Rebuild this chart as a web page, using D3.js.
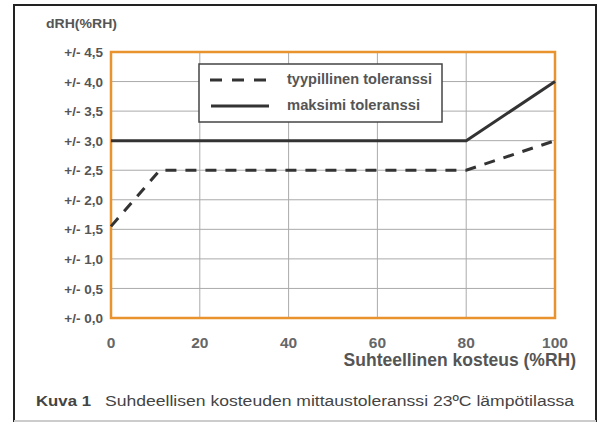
<!DOCTYPE html>
<html>
<head>
<meta charset="utf-8">
<script src="https://cdn.jsdelivr.net/npm/d3@7"></script>
<style>
  body { margin: 0; background: #fff; }
  svg text { font-family: "Liberation Sans", Arial, sans-serif; }
</style>
</head>
<body>
<div id="chart"></div>
<script>
// data
var typicalX = [0, 11, 80, 100];
var typicalY = [1.55, 2.5, 2.5, 3.0];
var maxX = [0, 80, 100];
var maxY = [3.0, 3.0, 4.0];
var xTicks = [0, 20, 40, 60, 80, 100];
var yTicks = [0, 0.5, 1, 1.5, 2, 2.5, 3, 3.5, 4, 4.5];
var legendLabels = ["tyypillinen toleranssi", "maksimi toleranssi"];
var legendWidths = [145, 133];

var width = 602, height = 423;
var svg = d3.select("#chart").append("svg")
  .attr("width", width)
  .attr("height", height);

// outer frame
svg.append("rect")
  .attr("x", 14).attr("y", 5)
  .attr("width", 582).attr("height", 416)
  .attr("fill", "none")
  .attr("stroke", "#222")
  .attr("stroke-width", 2);
svg.append("line")
  .attr("x1", 14).attr("x2", 596).attr("y1", 421).attr("y2", 421)
  .attr("stroke", "#ccc").attr("stroke-width", 2);

var x = d3.scaleLinear().domain([0, 100]).range([111, 555]);
var y = d3.scaleLinear().domain([0, 4.5]).range([318, 52]);

// grid
svg.append("g").selectAll("line")
  .data(yTicks.slice(1, -1))
  .enter().append("line")
  .attr("x1", x(0)).attr("x2", x(100))
  .attr("y1", function(d) { return y(d); })
  .attr("y2", function(d) { return y(d); })
  .attr("stroke", "#aaa").attr("stroke-width", 1);
svg.append("g").selectAll("line")
  .data(xTicks.slice(1, -1))
  .enter().append("line")
  .attr("y1", y(0)).attr("y2", y(4.5))
  .attr("x1", function(d) { return x(d); })
  .attr("x2", function(d) { return x(d); })
  .attr("stroke", "#aaa").attr("stroke-width", 1);

// orange plot border
svg.append("rect")
  .attr("x", x(0)).attr("y", y(4.5))
  .attr("width", x(100) - x(0)).attr("height", y(0) - y(4.5))
  .attr("fill", "none")
  .attr("stroke", "#e8932e")
  .attr("stroke-width", 2.5);

// y tick labels
var fmt = function(d) { return "+/- " + d3.format(".1f")(d).replace(".", ","); };
svg.append("g").selectAll("text")
  .data(yTicks)
  .enter().append("text")
  .attr("x", 103)
  .attr("y", function(d) { return y(d); })
  .attr("dy", "0.38em")
  .attr("text-anchor", "end")
  .attr("font-size", 13.5)
  .attr("font-weight", "bold")
  .attr("fill", "#555")
  .text(fmt);

// x tick labels
svg.append("g").selectAll("text")
  .data(xTicks)
  .enter().append("text")
  .attr("x", function(d) { return x(d); })
  .attr("y", 348)
  .attr("text-anchor", "middle")
  .attr("font-size", 15.5)
  .attr("font-weight", "bold")
  .attr("fill", "#666")
  .text(function(d) { return d; });

svg.append("text")
  .attr("x", 46).attr("y", 28)
  .attr("font-size", 13.5)
  .attr("font-weight", "bold")
  .attr("fill", "#555")
  .attr("textLength", 71)
  .attr("lengthAdjust", "spacingAndGlyphs")
  .text("dRH(%RH)");

svg.append("text")
  .attr("x", 576).attr("y", 366)
  .attr("text-anchor", "end")
  .attr("font-size", 17.5)
  .attr("font-weight", "bold")
  .attr("fill", "#555")
  .text("Suhteellinen kosteus (%RH)");

// caption
svg.append("text")
  .attr("x", 36).attr("y", 406)
  .attr("font-size", 15.5)
  .attr("font-weight", "bold")
  .attr("fill", "#444")
  .attr("textLength", 55)
  .attr("lengthAdjust", "spacingAndGlyphs")
  .text("Kuva 1");
svg.append("text")
  .attr("x", 105).attr("y", 406)
  .attr("font-size", 15.5)
  .attr("fill", "#444")
  .attr("textLength", 469)
  .attr("lengthAdjust", "spacingAndGlyphs")
  .text("Suhdeellisen kosteuden mittaustoleranssi 23ºC lämpötilassa");

// lines
var line = d3.line()
  .x(function(d) { return x(d[0]); })
  .y(function(d) { return y(d[1]); });

svg.append("path")
  .datum(d3.zip(typicalX, typicalY))
  .attr("d", line)
  .attr("fill", "none")
  .attr("stroke", "#333")
  .attr("stroke-width", 3)
  .attr("stroke-dasharray", "11,9");

svg.append("path")
  .datum(d3.zip(maxX, maxY))
  .attr("d", line)
  .attr("fill", "none")
  .attr("stroke", "#333")
  .attr("stroke-width", 3);

// legend
var lg = svg.append("g");
lg.append("rect")
  .attr("x", 199).attr("y", 64)
  .attr("width", 243).attr("height", 58)
  .attr("fill", "#fff")
  .attr("stroke", "#444")
  .attr("stroke-width", 1.5);
lg.append("line")
  .attr("x1", 210).attr("x2", 270).attr("y1", 80).attr("y2", 80)
  .attr("stroke", "#333").attr("stroke-width", 3)
  .attr("stroke-dasharray", "12,10");
lg.append("line")
  .attr("x1", 211).attr("x2", 269).attr("y1", 106).attr("y2", 106)
  .attr("stroke", "#333").attr("stroke-width", 3);
lg.selectAll("text.lab")
  .data(legendLabels)
  .enter().append("text")
  .attr("class", "lab")
  .attr("x", 287)
  .attr("y", function(d, i) { return 84 + i * 26; })
  .attr("font-size", 14)
  .attr("font-weight", "bold")
  .attr("fill", "#555")
  .attr("textLength", function(d, i) { return legendWidths[i]; })
  .attr("lengthAdjust", "spacingAndGlyphs")
  .text(function(d) { return d; });
</script>
</body>
</html>
